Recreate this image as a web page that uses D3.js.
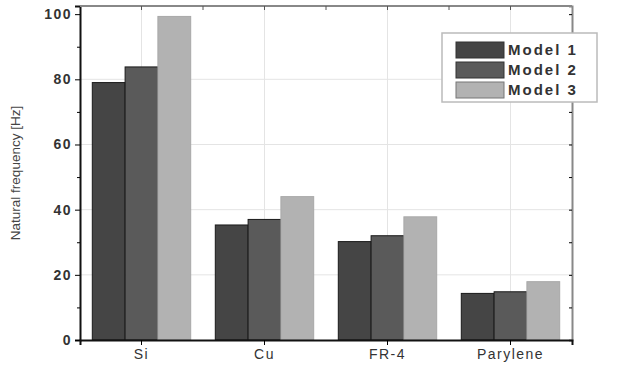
<!DOCTYPE html>
<html>
<head>
<meta charset="utf-8">
<script src="https://cdn.jsdelivr.net/npm/d3@7"></script>
<style>
  body { margin: 0; background: #fff; }
  text { font-family: "Liberation Sans", Arial, sans-serif; fill: #222; }
</style>
</head>
<body>
<svg id="viz" width="637" height="365"></svg>
<script>
const materials = ['Si', 'Cu', 'FR-4', 'Parylene'];
const models = ['Model 1', 'Model 2', 'Model 3'];
const model1 = [79, 35.3, 30.2, 14.3];
const model2 = [83.8, 37, 32, 14.8];
const model3 = [99.3, 44, 37.8, 17.9];
const yTicks = [0, 20, 40, 60, 80, 100];
const colors = ['#454545', '#5a5a5a', '#b2b2b2'];

const margin = { top: 6, right: 65, bottom: 25, left: 80 };
const width = 637 - margin.left - margin.right;
const height = 365 - margin.top - margin.bottom;

const svg = d3.select('#viz')
  .append('g')
  .attr('transform', 'translate(' + margin.left + ',' + margin.top + ')');

// SCALES
const x = d3.scaleBand().domain(materials).range([0, width]).padding(0);
const xInner = d3.scaleBand().domain(models)
  .range([x.bandwidth() * 0.1, x.bandwidth() * 0.9]).padding(0);
const y = d3.scaleLinear().domain([0, 102.5]).range([height, 0]);

// GRID
svg.append('g')
  .selectAll('line')
  .data(yTicks.slice(1, 5))
  .enter()
  .append('line')
  .attr('x1', 0).attr('x2', width)
  .attr('y1', (d) => y(d)).attr('y2', (d) => y(d))
  .style('stroke', '#e4e4e4');
svg.append('g')
  .selectAll('line')
  .data(materials)
  .enter()
  .append('line')
  .attr('x1', (d) => x(d) + x.bandwidth() / 2).attr('x2', (d) => x(d) + x.bandwidth() / 2)
  .attr('y1', 0).attr('y2', height)
  .style('stroke', '#e4e4e4');

// BARS
const series = [model1, model2, model3];
const rows = [];
materials.forEach((m, i) => {
  models.forEach((s, j) => rows.push({ m: m, s: s, v: series[j][i], c: colors[j] }));
});
svg.append('g')
  .selectAll('rect')
  .data(rows)
  .enter()
  .append('rect')
  .attr('x', (d) => x(d.m) + xInner(d.s))
  .attr('y', (d) => y(d.v))
  .attr('width', xInner.bandwidth())
  .attr('height', (d) => height - y(d.v))
  .style('fill', (d) => d.c)
  .style('stroke', (d) => (d.s === 'Model 3' ? '#a8a8a8' : '#1a1a1a'))
  .style('stroke-width', 1);

// AXES
const minor = d3.range(10, 101, 20);
const leftAxis = svg.append('g')
  .call(d3.axisLeft(y).tickValues(yTicks).tickSize(5).tickPadding(3));
leftAxis.select('.domain').style('stroke', '#111').style('stroke-width', 2);
leftAxis.selectAll('text')
  .style('font-size', '14px').style('font-weight', 'bold')
  .style('letter-spacing', '1.5px').style('fill', '#333');
svg.append('g')
  .call(d3.axisLeft(y).tickValues(minor).tickSize(3).tickFormat(''))
  .select('.domain').remove();

const rightAxis = svg.append('g')
  .attr('transform', 'translate(' + width + ',0)')
  .call(d3.axisLeft(y).tickValues(yTicks.concat(minor)).tickSize(3).tickFormat(''));
rightAxis.select('.domain').style('stroke', '#888').style('stroke-width', 2);

const catCenters = materials.map((m) => x(m) + x.bandwidth() / 2);
const bounds = materials.slice(1).map((m) => x(m));
const bottomAxis = svg.append('g')
  .attr('transform', 'translate(0,' + height + ')')
  .call(d3.axisBottom(x).tickSize(5).tickPadding(4));
bottomAxis.select('.domain').style('stroke', '#111').style('stroke-width', 2);
bottomAxis.selectAll('text')
  .style('font-size', '14px').style('letter-spacing', '1.5px').style('fill', '#333');

const topAxis = svg.append('g');
topAxis.append('line')
  .attr('x1', 0).attr('x2', width).attr('y1', 0).attr('y2', 0)
  .style('stroke', '#888').style('stroke-width', 2);
topAxis.selectAll('.tt')
  .data(catCenters.concat(bounds))
  .enter()
  .append('line')
  .attr('x1', (d) => d).attr('x2', (d) => d)
  .attr('y1', 0).attr('y2', 4)
  .style('stroke', '#555');

// LABELS
svg.append('text')
  .attr('transform', 'rotate(-90)')
  .attr('x', 0 - height / 2)
  .attr('y', -60)
  .style('text-anchor', 'middle')
  .style('font-size', '13.5px')
  .style('fill', '#444')
  .text('Natural frequency [Hz]');

// LEGEND
const legend = svg.append('g').attr('transform', 'translate(362,27)');
legend.append('rect')
  .attr('width', 155).attr('height', 69)
  .style('fill', '#fff').style('stroke', '#bbb').style('stroke-width', 1.5);
legend.selectAll('.sw')
  .data(models)
  .enter()
  .append('rect')
  .attr('x', 14)
  .attr('y', (d, i) => 9 + i * 20)
  .attr('width', 48).attr('height', 16)
  .style('fill', (d, i) => colors[i])
  .style('stroke', (d, i) => (i === 2 ? '#777' : '#333'));
legend.selectAll('.lt')
  .data(models)
  .enter()
  .append('text')
  .attr('x', 66)
  .attr('y', (d, i) => 22 + i * 20)
  .style('font-size', '15px')
  .style('font-weight', 'bold')
  .style('letter-spacing', '2px')
  .style('fill', '#333')
  .text((d) => d);
</script>
</body>
</html>
